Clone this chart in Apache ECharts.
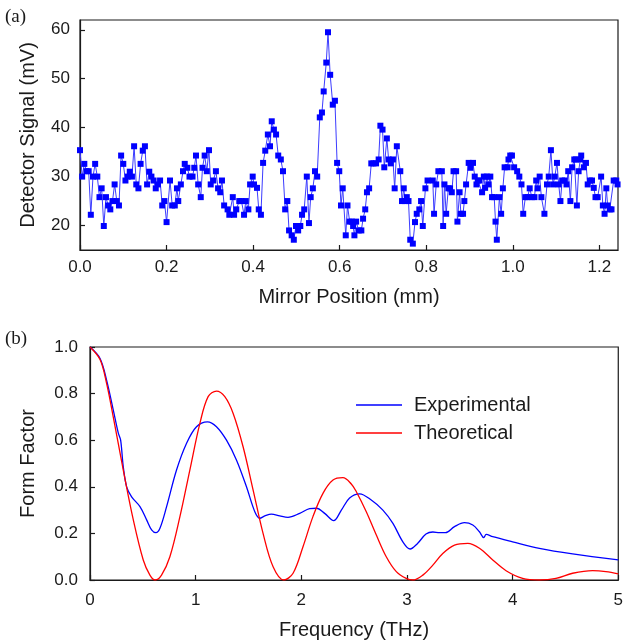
<!DOCTYPE html>
<html>
<head>
<meta charset="utf-8">
<title>Interferogram and form factor</title>
<script src="https://cdn.jsdelivr.net/npm/echarts@6/dist/echarts.min.js"></script>
<style>
  html, body { margin: 0; padding: 0; background: #ffffff; }
  #chart { width: 626px; height: 644px; }
</style>
</head>
<body>
<div id="chart"></div>
<script>
  // (a) interferogram, mirror position in mm / detector signal in mV
  var mirrorPos = [
    0, 0.005, 0.01, 0.015, 0.02, 0.025, 0.03, 0.035, 0.04, 0.045, 0.05, 0.055, 0.06, 0.065, 0.07, 0.075, 0.08, 0.085, 0.09, 0.095,
    0.1, 0.105, 0.11, 0.115, 0.12, 0.125, 0.13, 0.135, 0.14, 0.145, 0.15, 0.155, 0.16, 0.165, 0.17, 0.175, 0.18, 0.185, 0.19, 0.195, 0.2,
    0.208, 0.213, 0.219, 0.224, 0.227, 0.233, 0.238, 0.242, 0.248, 0.253, 0.26, 0.264, 0.268, 0.273, 0.279, 0.283, 0.288, 0.293, 0.298, 0.302,
    0.308, 0.314, 0.319, 0.324, 0.328, 0.333, 0.341, 0.345, 0.353, 0.356, 0.361, 0.368, 0.373, 0.379, 0.383, 0.389, 0.393, 0.399, 0.402,
    0.409, 0.413, 0.418, 0.423, 0.428, 0.434, 0.439, 0.443, 0.448, 0.453, 0.458, 0.464, 0.469, 0.474, 0.479, 0.483, 0.489, 0.494, 0.499, 0.504,
    0.509, 0.513, 0.518, 0.524, 0.529, 0.533, 0.538, 0.543, 0.548, 0.554, 0.559, 0.563, 0.569, 0.573, 0.578, 0.584, 0.589, 0.594, 0.599, 0.603, 0.607,
    0.614, 0.618, 0.623, 0.628, 0.631, 0.634, 0.638, 0.644, 0.65, 0.654, 0.659, 0.663, 0.668, 0.673, 0.678, 0.684, 0.69, 0.694, 0.699, 0.703,
    0.709, 0.713, 0.718, 0.723, 0.727, 0.732, 0.74, 0.744, 0.748, 0.751, 0.755, 0.759, 0.763, 0.769, 0.774, 0.778, 0.784, 0.788, 0.792, 0.798, 0.803,
    0.815, 0.818, 0.823, 0.828, 0.836, 0.839, 0.842, 0.846, 0.851, 0.855, 0.859, 0.863, 0.869, 0.872, 0.877, 0.88, 0.885, 0.888, 0.892, 0.898,
    0.902, 0.908, 0.912, 0.916, 0.919, 0.923, 0.929, 0.933, 0.936, 0.94, 0.944, 0.948, 0.952, 0.957, 0.96, 0.963, 0.969, 0.973, 0.977, 0.981,
    0.988, 0.99, 0.994, 0.998, 1.003, 1.01, 1.015, 1.02, 1.024, 1.029, 1.034, 1.039, 1.044, 1.05, 1.054, 1.057, 1.062, 1.066, 1.073, 1.079,
    1.083, 1.088, 1.093, 1.097, 1.102, 1.106, 1.11, 1.114, 1.12, 1.124, 1.128, 1.133, 1.137, 1.142, 1.146, 1.148, 1.152, 1.156, 1.158, 1.164,
    1.169, 1.173, 1.178, 1.183, 1.187, 1.191, 1.196, 1.204, 1.208, 1.212, 1.216, 1.219, 1.224, 1.228, 1.233, 1.239, 1.242
  ]
  var detSignal = [
    35.4, 30, 32.6, 31.1, 31.1, 22.2, 30, 32.6, 30, 25.8, 27.6, 19.9, 25.8, 24.1, 23.3, 25, 28.4, 25, 24.1, 34.3,
    32.6, 29.2, 30, 31, 30, 36.2, 28.4, 27.6, 32.6, 35.3, 36.2, 28.4, 31, 30, 29.2, 27.6, 28.4, 29.2, 24.1, 25, 20.7,
    29.2, 24.1, 24.1, 27.6, 25, 28.4, 31.1, 32.6, 31.8, 30, 30, 31.8, 34.3, 28.4, 25.8, 31.8, 34.3, 31.1, 35.4, 28.4,
    29.2, 31.1, 27.6, 26.8, 29.2, 24.1, 23.3, 22.2, 25.8, 22.2, 23.3, 25, 25, 22.2, 25, 23.3, 28.4, 30, 28.4,
    27.7, 23.3, 22.2, 32.8, 35.3, 38.6, 36.2, 41.3, 39.6, 38.6, 34.3, 33.5, 31.1, 23.3, 25, 19, 18, 17.1, 19.9, 19,
    19.9, 22.2, 23.3, 30, 20.5, 25.8, 27.6, 31.1, 30, 42.1, 43.1, 47.4, 53.3, 59.5, 50.8, 44.7, 45.5, 32.8, 31.1, 24.1, 27.6,
    18, 24.1, 20.8, 20.8, 19.9, 18, 20.8, 19, 19, 21.4, 23.3, 26.8, 27.6, 32.7, 32.7, 32.7, 33.5, 40.4, 39.6, 31.9,
    37.8, 33.5, 32.7, 33.5, 27.6, 36.2, 31.1, 25, 27.6, 25, 25.8, 25, 17.1, 16.3, 20.7, 22.4, 23.3, 25, 19.9, 27.6, 29.2,
    29.2, 22.4, 28.4, 31.1, 31.1, 19.9, 28.4, 22.4, 27.6, 27.6, 26.8, 31.1, 31.1, 20.8, 26.8, 22.4, 22.4, 25, 28.4, 32.8,
    31.8, 32.8, 30, 28.4, 29.2, 29.2, 26.8, 30, 27.7, 30, 28.4, 30, 25.8, 25.8, 20.8, 17.1, 25.8, 22.4, 27.6, 31.9,
    31.9, 33.5, 34.3, 34.3, 31.9, 31.1, 30, 28.4, 22.4, 25.8, 25.8, 27.6, 25.8, 25.8, 29.2, 27.6, 30, 25.8, 22.4, 28.4,
    30, 35.4, 28.4, 30, 32.8, 28.4, 25, 29.2, 29.2, 28.4, 31.1, 25, 31.9, 33.5, 33.5, 24.1, 31.1, 33.5, 34.3, 31.9,
    32.8, 28.4, 29.2, 29.2, 27.7, 25.8, 25.8, 30, 24.1, 22.4, 27.6, 24.1, 23.3, 23.3, 29.2, 29.2, 28.4
  ]

  // (b) form factor against frequency (THz)
  var expFreq = [0, 0.095, 0.157, 0.22, 0.268, 0.29, 0.315, 0.347, 0.394, 0.473, 0.536, 0.583, 0.624, 0.662, 0.725, 0.819, 0.914, 1.008, 1.112, 1.197,
    1.292, 1.386, 1.481, 1.56, 1.607, 1.654, 1.717, 1.796, 1.874, 1.985, 2.079, 2.143, 2.221, 2.306, 2.379, 2.457, 2.552, 2.662, 2.772, 2.867,
    2.961, 3.03, 3.1, 3.18, 3.245, 3.308, 3.365, 3.45, 3.544, 3.623, 3.686, 3.727, 3.75, 3.812, 4.0, 4.253, 4.568, 5.0]
  var expForm = [1.0, 0.951, 0.858, 0.73, 0.63, 0.6, 0.486, 0.4, 0.357, 0.315, 0.258, 0.215, 0.203, 0.222, 0.315, 0.472, 0.587, 0.658, 0.679, 0.658,
    0.6, 0.515, 0.4, 0.293, 0.265, 0.275, 0.283, 0.275, 0.269, 0.286, 0.306, 0.308, 0.286, 0.255, 0.3, 0.352, 0.37, 0.343, 0.3, 0.243,
    0.164, 0.133, 0.157, 0.197, 0.206, 0.203, 0.203, 0.229, 0.246, 0.236, 0.207, 0.182, 0.196, 0.186, 0.164, 0.136, 0.112, 0.086]
  var theoFreq = [0, 0.095, 0.157, 0.22, 0.315, 0.41, 0.504, 0.567, 0.617, 0.677, 0.756, 0.851, 0.945, 1.04, 1.118, 1.197, 1.276, 1.355, 1.449, 1.544,
    1.638, 1.733, 1.834, 1.922, 2.016, 2.11, 2.205, 2.3, 2.394, 2.473, 2.521, 2.615, 2.71, 2.804, 2.899, 2.993, 3.056, 3.15, 3.245, 3.339,
    3.45, 3.576, 3.686, 3.812, 3.938, 4.095, 4.253, 4.41, 4.568, 4.757, 4.883, 5.0]
  var theoForm = [1.0, 0.946, 0.844, 0.7, 0.472, 0.258, 0.086, 0.021, 0.0, 0.021, 0.1, 0.272, 0.472, 0.672, 0.787, 0.811, 0.787, 0.715, 0.572, 0.386,
    0.2, 0.057, 0.0, 0.029, 0.143, 0.272, 0.372, 0.429, 0.439, 0.412, 0.379, 0.293, 0.193, 0.1, 0.036, 0.007, 0.0, 0.021, 0.064, 0.114,
    0.15, 0.157, 0.136, 0.086, 0.04, 0.007, 0.0, 0.007, 0.029, 0.04, 0.036, 0.026]

  var font = 'Liberation Sans, Arial, Helvetica, sans-serif'
  var ink = '#1a1a1a'

  function pairs(xs, ys) {
    return xs.map(function(x, i) { return [x, ys[i]] })
  }

  function axisBase() {
    return {
      type: 'value',
      axisLine: { show: true, lineStyle: { color: ink, width: 1.2 } },
      axisTick: { show: true, inside: true, length: 5, lineStyle: { color: ink, width: 1.2 } },
      axisLabel: { color: ink, fontSize: 17, fontFamily: font },
      splitLine: { show: false },
      nameLocation: 'middle',
      nameTextStyle: { color: ink, fontSize: 20, fontFamily: font }
    }
  }

  var chart = echarts.init(document.getElementById('chart'), null, { renderer: 'canvas' })

  var xTop = axisBase()
  Object.assign(xTop, {
    gridIndex: 0, min: 0, max: 1.243, interval: 0.2,
    name: 'Mirror Position (mm)', nameGap: 37
  })
  xTop.axisLabel = Object.assign({}, xTop.axisLabel, {
    margin: 9, showMaxLabel: false,
    formatter: function(v) { return v.toFixed(1) }
  })

  var yTop = axisBase()
  Object.assign(yTop, {
    gridIndex: 0, min: 15, max: 62, splitNumber: 5,
    name: 'Detector Signal (mV)', nameGap: 42
  })
  yTop.axisLabel = Object.assign({}, yTop.axisLabel, {
    margin: 10, showMinLabel: false, showMaxLabel: false
  })

  var xBot = axisBase()
  Object.assign(xBot, {
    gridIndex: 1, min: 0, max: 5, interval: 1,
    name: 'Frequency (THz)', nameGap: 40
  })
  xBot.axisLabel = Object.assign({}, xBot.axisLabel, { margin: 12 })

  var yBot = axisBase()
  Object.assign(yBot, {
    gridIndex: 1, min: 0, max: 1, interval: 0.2,
    name: 'Form Factor', nameGap: 52
  })
  yBot.axisLabel = Object.assign({}, yBot.axisLabel, {
    margin: 12,
    formatter: function(v) { return v.toFixed(1) }
  })

  var options = {
    animation: false,
    backgroundColor: '#ffffff',
    title: [
      { text: '(a)', left: 0, top: 3, textStyle: { fontFamily: 'Liberation Serif, Times New Roman, serif', fontWeight: 'normal', fontSize: 19, color: ink } },
      { text: '(b)', left: 0, top: 325, textStyle: { fontFamily: 'Liberation Serif, Times New Roman, serif', fontWeight: 'normal', fontSize: 19, color: ink } }
    ],
    grid: [
      { left: 80, top: 20, width: 538, height: 230, show: true, borderColor: ink, borderWidth: 1.2 },
      { left: 90, top: 347, width: 529, height: 233, show: true, borderColor: ink, borderWidth: 1.2 }
    ],
    legend: {
      orient: 'vertical',
      left: 351,
      top: 390,
      icon: 'rect',
      itemWidth: 46,
      itemHeight: 1.5,
      itemGap: 8,
      textStyle: { fontSize: 20, fontFamily: font, color: ink, padding: [0, 0, 0, 7] },
      data: ['Experimental', 'Theoretical']
    },
    xAxis: [xTop, xBot],
    yAxis: [yTop, yBot],
    series: [
      {
        name: 'Signal',
        type: 'line',
        xAxisIndex: 0,
        yAxisIndex: 0,
        data: pairs(mirrorPos, detSignal),
        symbol: 'rect',
        symbolSize: 6,
        showAllSymbol: true,
        itemStyle: { color: '#0000ff' },
        lineStyle: { color: '#3c3cff', width: 1 }
      },
      {
        name: 'Experimental',
        type: 'line',
        xAxisIndex: 1,
        yAxisIndex: 1,
        data: pairs(expFreq, expForm),
        symbol: 'none',
        smooth: 0.35,
        itemStyle: { color: '#0000ff' },
        lineStyle: { color: '#0000ff', width: 1.3 }
      },
      {
        name: 'Theoretical',
        type: 'line',
        xAxisIndex: 1,
        yAxisIndex: 1,
        data: pairs(theoFreq, theoForm),
        symbol: 'none',
        smooth: 0.35,
        itemStyle: { color: '#ff0000' },
        lineStyle: { color: '#ff0000', width: 1.3 }
      }
    ]
  }

  chart.setOption(options)
</script>
</body>
</html>
